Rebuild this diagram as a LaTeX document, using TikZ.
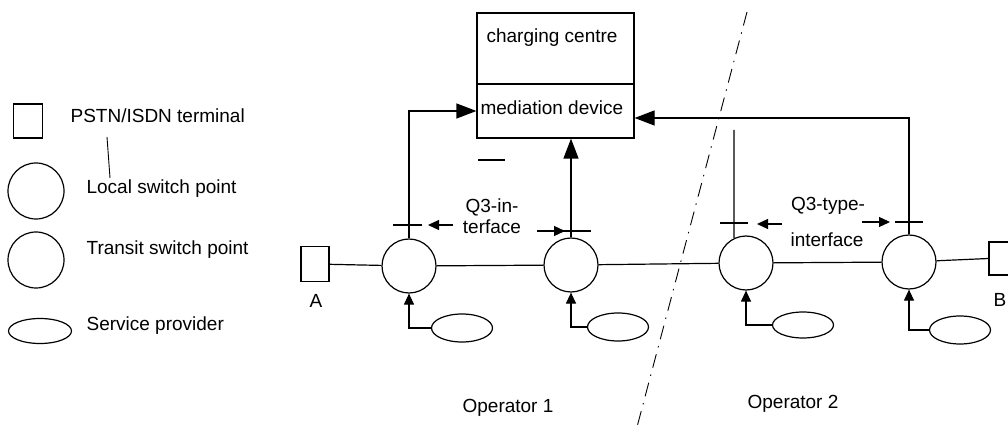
\documentclass[tikz,border=0pt]{standalone}
\usepackage{fontspec}
\setmainfont{Liberation Sans}
\usetikzlibrary{
	shapes.geometric,
	arrows.meta,
	positioning,
	calc
}

\begin{document}
\begin{tikzpicture}[
				x=1pt, y=-1pt, line width=1.2pt,
				every node/.style={font=\fontsize{19}{22}\selectfont},
				switch/.style={
					circle, draw, minimum size=54pt, inner sep=0pt
				},
				legswitch/.style={
					switch, minimum size=56pt
				},
				terminal/.style={
					rectangle, draw, minimum width=28pt, minimum height=35pt, inner sep=0pt
				},
				provider/.style={
					ellipse, draw, minimum width=61pt, minimum height=28pt, inner sep=0pt
				},
				box/.style={
					rectangle, draw, minimum width=157pt, inner sep=0pt
				},
				txt/.style={inner sep=0pt, anchor=base west},
				ctxt/.style={inner sep=0pt, anchor=base},
				arrow/.style={-{Triangle[length=20pt,width=15pt]}},
				smallarrow/.style={-{Triangle[length=11pt,width=10pt]}},
				boundary/.style={line width=0.9pt, dash pattern=on 14pt off 7pt on 1.5pt off 7pt},
				]
				\useasboundingbox (0,0) rectangle (1008,427);
				\clip (0,0) rectangle (1008,427);
				
				%legend
				\node[terminal, minimum width=29pt, minimum height=34pt] (legterm) at (28,121) {};
				\node[txt] (legtermtxt) at (70,123) {PSTN/ISDN terminal};
				\node[legswitch] (leglocal) at (36,191) {};
				\node[txt] (leglocaltxt) at (86,194) {Local switch point};
				\node[legswitch] (legtransit) at (36,260) {};
				\node[txt] (legtransittxt) at (86,255) {Transit switch point};
				\node[provider, minimum width=63pt, minimum height=25pt] (legsp) at (40,331) {};
				\node[txt] (legsptxt) at (86,330) {Service provider};
				\draw[line width=0.9pt] (107,137) -- (110,178);
				
				%charging centre
				\node[box, minimum height=71pt] (cc) at (555.5,48.5) {};
				\node[txt] (cctxt) at (486,43) {charging centre};
				\node[box, minimum height=54pt] (md) at (555.5,111) {};
				\node[txt] (mdtxt) at (480,115) {mediation device};
				\draw (478,160) -- (505,160);
				
				%switches
				\node[terminal] (termA) at (315,264) {};
				\node[txt] (Alabel) at (309,308) {A};
				\node[switch] (sw1) at (409,266) {};
				\node[switch] (sw2) at (571,265) {};
				\node[switch] (sw3) at (746,263) {};
				\node[switch] (sw4) at (909,262) {};
				\node[terminal, minimum height=33pt] (termB) at (1003,258.5) {};
				\node[txt] (Blabel) at (993,306) {B};
				\draw (termA) -- (sw1);
				\draw (sw1) -- (sw2);
				\draw (sw2) -- (sw3);
				\draw (sw3) -- (sw4);
				\draw (sw4) -- (termB.west);
				
				%service providers
				\node[provider] (sp1) at (462,328) {};
				\node[provider] (sp2) at (618,327) {};
				\node[provider, minimum height=26pt] (sp3) at (803,325) {};
				\node[provider] (sp4) at (960,330) {};
				\draw[smallarrow] (sp1.west) -| (sw1.south);
				\draw[smallarrow] (sp2.west) -| (sw2.south);
				\draw[smallarrow] (sp3.west) -| (sw3.south);
				\draw[smallarrow] (sp4.west) -| (sw4.south);
				
				%to mediation device
				\coordinate (mdin) at ([yshift=-7pt]md.east);
				\coordinate (sw3top) at (734,130);
				\draw[arrow] (sw1.north) |- (md.west);
				\draw[arrow] (sw2.north) -- (sw2.north |- md.south);
				\draw[arrow] (sw4.north) |- (mdin);
				\draw (sw3top) -- (sw3.116);
				
				%interfaces
				\draw (393,225) -- (422,225);
				\draw (561,231) -- (591,231);
				\draw (720,223) -- (748,223);
				\draw (895,222) -- (923,222);
				\node[ctxt] (q3a) at (492,213) {Q3-in-};
				\node[ctxt] (q3b) at (492,234) {terface};
				\node[ctxt] (q3c) at (828,211) {Q3-type-};
				\node[ctxt] (q3d) at (827,247) {interface};
				\coordinate (q3al) at (453,225);
				\coordinate (q3ar) at (537,231);
				\coordinate (q3cl) at (782,224);
				\coordinate (q3cr) at (862,222);
				\draw[smallarrow] (q3al) -- (428,225);
				\draw[smallarrow] (q3ar) -- (565,231);
				\draw[smallarrow] (q3cl) -- (757,224);
				\draw[smallarrow] (q3cr) -- (890,222);
				
				%operators
				\coordinate (bordertop) at (747,12);
				\coordinate (borderbot) at (637,427);
				\draw[boundary] (bordertop) -- (borderbot);
				\node[ctxt] (op1) at (508,412) {Operator 1};
				\node[ctxt] (op2) at (793,408) {Operator 2};
\end{tikzpicture}
\end{document}
